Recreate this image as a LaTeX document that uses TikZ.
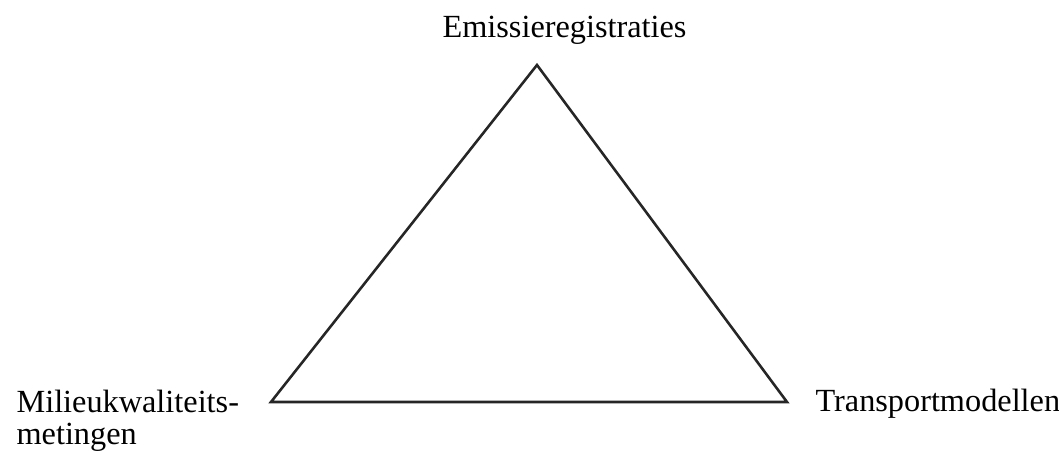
\documentclass[tikz,border=0pt]{standalone}
\usepackage{fontspec}
\setmainfont{Liberation Serif}
\usetikzlibrary{positioning}

\begin{document}
\begin{tikzpicture}[x=0.0123cm, y=-0.0123cm,
    side/.style={draw=black!85, line width=0.9pt, line join=miter},
    label/.style={font=\fontsize{11.3}{11.4}\selectfont, inner sep=0pt, align=left},
  ]
    \useasboundingbox (0,0) rectangle (1059,456);
    % corners of the triangle
    \coordinate (top) at (537,65);
    \coordinate (left) at (271,402);
    \coordinate (right) at (787,402);
    \draw[side] (top) -- (right) -- (left) -- cycle;
    % labels
    \node[label, anchor=base west] (emis) at (442,38) {Emissieregistraties};
    \node[label, anchor=base west] (milieu) at (16,445) {Milieukwaliteits-\\metingen};
    \node[label, anchor=base west] (transp) at (815,412) {Transportmodellen};
  \end{tikzpicture}
\end{document}
